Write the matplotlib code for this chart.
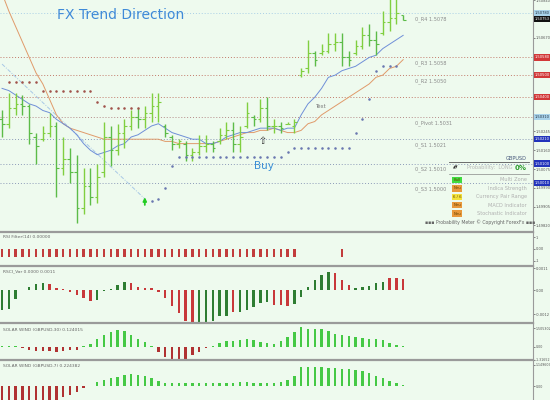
import numpy as np
import matplotlib
matplotlib.use("Agg")
import matplotlib.pyplot as plt
import matplotlib.transforms as mtransforms

# ---- data (GBPUSD, 60 bars) ----
bars = np.arange(1, 61)

high = [1.5034, 1.5042, 1.5042, 1.5041, 1.5037, 1.5024, 1.5027, 1.5033, 1.5029, 1.5022,
        1.5017, 1.5014, 1.5008, 1.5008, 1.5010, 1.5029, 1.5027, 1.5028, 1.5030, 1.5034,
        1.5035, 1.5036, 1.5042, 1.5042, 1.5028, 1.5023, 1.5021, 1.5020, 1.5017, 1.5023,
        1.5023, 1.5020, 1.5026, 1.5029, 1.5029, 1.5027, 1.5038, 1.5032, 1.5039, 1.5040,
        1.5030, 1.5029, 1.5029, 1.5030, 1.5053, 1.5066, 1.5061, 1.5064, 1.5069, 1.5069,
        1.5069, 1.5061, 1.5066, 1.5072, 1.5073, 1.5070, 1.5079, 1.5086, 1.5088, 1.5077]
low = [1.5022, 1.5026, 1.5032, 1.5032, 1.5019, 1.5010, 1.5020, 1.5022, 1.4995, 1.5005,
       1.5001, 1.4983, 1.4987, 1.4991, 1.4992, 1.5004, 1.5009, 1.5014, 1.5017, 1.5025,
       1.5026, 1.5026, 1.5029, 1.5029, 1.5022, 1.5016, 1.5017, 1.5011, 1.5011, 1.5014,
       1.5015, 1.5015, 1.5019, 1.5021, 1.5015, 1.5015, 1.5026, 1.5027, 1.5029, 1.5025,
       1.5024, 1.5024, 1.5028, 1.5024, 1.5049, 1.5051, 1.5054, 1.5059, 1.5060, 1.5061,
       1.5054, 1.5054, 1.5059, 1.5062, 1.5063, 1.5059, 1.5068, 1.5070, 1.5073, 1.5075]
open_ = [1.5030, 1.5028, 1.5035, 1.5037, 1.5036, 1.5022, 1.5021, 1.5024, 1.5027, 1.5008,
         1.5012, 1.5006, 1.4990, 1.5000, 1.4995, 1.5006, 1.5022, 1.5016, 1.5024, 1.5027,
         1.5031, 1.5030, 1.5033, 1.5036, 1.5027, 1.5022, 1.5019, 1.5019, 1.5014, 1.5015,
         1.5018, 1.5019, 1.5020, 1.5023, 1.5025, 1.5019, 1.5027, 1.5031, 1.5030, 1.5035,
         1.5027, 1.5027, 1.5028, 1.5027, 1.5050, 1.5053, 1.5060, 1.5060, 1.5061, 1.5064,
         1.5065, 1.5058, 1.5060, 1.5063, 1.5068, 1.5066, 1.5069, 1.5074, 1.5076, 1.5077]
close = [1.5028, 1.5035, 1.5037, 1.5036, 1.5024, 1.5018, 1.5024, 1.5027, 1.5008, 1.5012,
         1.5006, 1.4990, 1.5000, 1.4995, 1.5004, 1.5022, 1.5016, 1.5024, 1.5027, 1.5031,
         1.5030, 1.5033, 1.5036, 1.5038, 1.5024, 1.5019, 1.5020, 1.5014, 1.5015, 1.5018,
         1.5019, 1.5017, 1.5023, 1.5025, 1.5019, 1.5022, 1.5033, 1.5030, 1.5035, 1.5027,
         1.5027, 1.5026, 1.5028, 1.5029, 1.5052, 1.5060, 1.5057, 1.5061, 1.5064, 1.5065,
         1.5058, 1.5057, 1.5063, 1.5068, 1.5066, 1.5064, 1.5074, 1.5076, 1.5078, 1.5075]

ma_fast = [1.5044, 1.5043, 1.5041, 1.5039, 1.5037, 1.5036, 1.5034, 1.5033, 1.5030, 1.5028,
           1.5026, 1.5023, 1.5019, 1.5016, 1.5014, 1.5015, 1.5016, 1.5018, 1.5019, 1.5022,
           1.5023, 1.5025, 1.5027, 1.5028, 1.5026, 1.5024, 1.5023, 1.5022, 1.5021, 1.5021,
           1.5019, 1.5019, 1.5020, 1.5022, 1.5023, 1.5024, 1.5024, 1.5025, 1.5026, 1.5026,
           1.5026, 1.5025, 1.5026, 1.5026, 1.5032, 1.5037, 1.5040, 1.5044, 1.5049, 1.5050,
           1.5052, 1.5053, 1.5054, 1.5056, 1.5058, 1.5059, 1.5062, 1.5064, 1.5066, 1.5068]
ma_slow = [1.5087, 1.5079, 1.5072, 1.5065, 1.5058, 1.5051, 1.5046, 1.5039, 1.5032, 1.5028,
           1.5026, 1.5025, 1.5024, 1.5023, 1.5022, 1.5021, 1.5021, 1.5021, 1.5021, 1.5021,
           1.5021, 1.5021, 1.5021, 1.5021, 1.5020, 1.5020, 1.5019, 1.5019, 1.5019, 1.5019,
           1.5019, 1.5019, 1.5020, 1.5021, 1.5022, 1.5023, 1.5024, 1.5024, 1.5025, 1.5025,
           1.5026, 1.5025, 1.5024, 1.5024, 1.5025, 1.5028, 1.5029, 1.5032, 1.5034, 1.5036,
           1.5038, 1.5040, 1.5042, 1.5044, 1.5046, 1.5049, 1.5050, 1.5053, 1.5054, 1.5057]

nan = np.nan
sar_up = [nan, 1.5047, 1.5047, 1.5047, 1.5047, 1.5047, 1.5043, 1.5043, 1.5043, 1.5043,
          1.5043, 1.5043, 1.5043, 1.5043, 1.5038, 1.5036, 1.5035, 1.5035, 1.5035, 1.5035,
          1.5035] + [nan] * 39
sar_dn = [nan] * 22 + [1.4993, 1.4994, 1.4999, 1.5009] + [1.5013] * 16 + [1.5015] + \
         [1.5017] * 9 + [1.5024, 1.5030, 1.5039, 1.5052, 1.5054, 1.5054, 1.5054, nan]

trend_x = [1, 22]
trend_y = [1.5055, 1.4994]

levels = [1.5078, 1.5058, 1.5050, 1.5040, 1.5031, 1.5021, 1.5010, 1.5001]
level_names = ["0_R4 1.5078", "0_R3 1.5058", "0_R2 1.5050", "", "0_Pivot 1.5031",
               "0_S1 1.5021", "0_S2 1.5010", "0_S3 1.5000"]
level_colors = ["#a9cfe6", "#c27a6a", "#c27a6a", "#c27a6a", "#b48a88",
                "#8c9ab8", "#8c9ab8", "#8c9ab8"]

# scale labels that are not hidden under the coloured boxes
price_ticks = [1.4982, 1.49905, 1.4999, 1.50075, 1.5016, 1.50245, 1.5067, 1.5084]
price_boxes = [1.5078, 1.50753, 1.5058, 1.5050, 1.5040, 1.5031, 1.5021, 1.5010, 1.5001]
box_colors = ["#a9d3ea", "#111111", "#d23838", "#d23838", "#d23838", "#a9d3ea",
              "#2233bb", "#2233bb", "#2233bb"]

rsi_filter = [-0.7] * 44 + [nan] * 6 + [-0.7] + [nan] * 9

rsci = [-0.0010, -0.00095, -0.00045, 0.00002, 0.00015, 0.0003, 0.00035, 0.0003, 0.0001, 0.00005,
        -0.0001, -0.00025, -0.0004, -0.00055, -0.0005, -0.00005, 0.00005, 0.00025, 0.0004, 0.00035,
        0.00015, 0.0001, 0.0001, -0.0001, -0.0004, -0.0008, -0.00115, -0.00155, -0.00165, -0.00165,
        -0.00165, -0.00155, -0.0013, -0.0013, -0.0011, -0.0011, -0.0010, -0.00085, -0.00065, -0.0006,
        -0.00075, -0.00075, -0.0008, -0.0007, -0.00035, 0.00015, 0.0005, 0.00075, 0.0009, 0.00085,
        0.0005, 0.00025, 0.0001, 0.00015, 0.0002, 0.00035, 0.0004, 0.0006, 0.0006, 0.00055]
rsci_col = list("gggggggrrr" "rrrrgggggr" "rrrrrrrrrg" "ggggrggggg"
                "rrrggggggr" "rrgggggrrr")

solar1 = [0.08, 0.08, 0.08, -0.08, -0.24, -0.32, -0.32, -0.32, -0.40, -0.32,
          -0.24, -0.24, 0.08, 0.24, 0.64, 0.96, 1.20, 1.36, 1.28, 0.96,
          0.64, 0.40, 0.08, -0.40, -0.80, -1.04, -1.04, -0.96, -0.64, -0.40,
          -0.08, 0.08, 0.32, 0.48, 0.48, 0.56, 0.64, 0.56, 0.40, 0.32,
          0.24, 0.48, 0.80, 1.20, 1.60, 1.44, 1.44, 1.44, 1.28, 1.04,
          0.96, 0.88, 0.80, 0.72, 0.64, 0.64, 0.56, 0.32, 0.16, 0.08]
solar2 = [-0.96] * 9 + [-0.66, -0.54, -0.36, -0.12, 0.03, 0.24, 0.36, 0.48, 0.54, 0.66, 0.72,
          0.66, 0.60, 0.48, 0.30, 0.18, 0.18, 0.18, 0.18, 0.18, 0.18,
          0.18, 0.18, 0.21, 0.21, 0.21, 0.24, 0.24, 0.21, 0.21, 0.21,
          0.18, 0.24, 0.36, 0.60, 1.14, 1.14, 1.14, 1.14, 1.08, 1.08,
          1.02, 1.02, 0.96, 0.90, 0.78, 0.60, 0.48, 0.30, 0.18, 0.06]

info_rows = ["Multi Zone", "Indica Strength", "Currency Pair Range", "MACD Indicator",
             "Stochastic Indicator"]
info_box_cols = ["#3fdc3f", "#e8973a", "#f2e23a", "#e8973a", "#e8973a"]
info_box_txt = ["Bull", "Neu", "6 / 6", "Neu", "Neu"]

# ---- layout ----
BG = "#eefaee"
W, H = 550, 400
fig = plt.figure(figsize=(5.5, 4), dpi=100, facecolor=BG)


def frame(y0, y1):
    return [0, 1 - y1 / H, 533 / W, (y1 - y0) / H]


def ftext(x, y, s, **kw):
    fig.text(x / W, 1 - y / H, s, **kw)


ax = fig.add_axes(frame(0, 232))
ax_rsi = fig.add_axes(frame(232, 266))
ax_rsci = fig.add_axes(frame(266, 323))
ax_s1 = fig.add_axes(frame(323, 360))
ax_s2 = fig.add_axes(frame(360, 400))

for a in (ax, ax_rsi, ax_rsci, ax_s1, ax_s2):
    a.set_facecolor(BG)
    a.set_xlim(0.7, 79.1)
    a.set_xticks([])
    a.yaxis.tick_right()
    a.tick_params(axis="y", labelsize=2.6, colors="#555555", length=1.2, width=0.5, pad=0.5)
    a.spines["left"].set_visible(False)
    a.spines["bottom"].set_visible(False)
    a.spines["right"].set_color("#9a9a9a")
    a.spines["right"].set_linewidth(0.8)
    a.spines["top"].set_color("#9a9a9a")
    a.spines["top"].set_linewidth(1.6)
ax.spines["top"].set_visible(False)
for a in (ax_s1, ax_s2):
    a.tick_params(axis="y", labelsize=2.3)

# ---- main price panel ----
ax.set_ylim(1.4979, 1.5084)
ax.set_yticks(price_ticks)
ax.set_yticklabels([f"{t:.5f}" for t in price_ticks])

for lv, c in zip(levels, level_colors):
    ax.axhline(lv, color=c, lw=0.7, ls=(0, (1, 2)), zorder=1)
for lv, name in zip(levels, level_names):
    if name:
        ax.annotate(name, (61.7, lv), xytext=(0, -4), textcoords="offset points",
                    fontsize=3.6, color="#8a8a8a", va="center", zorder=2)

ax.plot(trend_x, trend_y, color="#a8c8e6", lw=0.7, ls=(0, (4, 1.5, 1, 1.5)), zorder=2)
ax.plot(bars, ma_slow, color="#e09a6a", lw=0.7, zorder=3)
ax.plot(bars, ma_fast, color="#6f8fd8", lw=0.7, zorder=3)

up = np.array(close) >= np.array(open_)
cols = np.where(up, "#80cf40", "#5cbc48")
ax.vlines(bars, low, high, colors=cols, lw=1.0, zorder=4)
ax.hlines(open_, bars - 0.38, bars, colors=cols, lw=0.8, zorder=4)
ax.hlines(close, bars, bars + 0.38, colors=cols, lw=0.8, zorder=4)

ax.scatter(bars, sar_up, s=0.7, color="#a0524a", zorder=5)
ax.scatter(bars, sar_dn, s=0.7, color="#6a78b0", zorder=5)

ax.annotate("", xy=(22, 1.4996), xytext=(22, 1.4990),
            arrowprops=dict(arrowstyle="-|>", color="#22cc22", lw=1.3,
                            mutation_scale=5), zorder=6)
ax.text(39.3, 1.5020, "\u21e7", fontsize=7, ha="center", va="center", color="#333333", zorder=6)
ax.text(39.5, 1.5009, "Buy", fontsize=7.5, ha="center", va="center", color="#3a8fd6", zorder=6)
ax.text(47.2, 1.5036, "Text", fontsize=3.8, ha="left", va="center", color="#777777", zorder=6)

# coloured price boxes on the right scale
trans = mtransforms.blended_transform_factory(ax.transAxes, ax.transData)
for p, c in zip(price_boxes, box_colors):
    tc = "#223344" if c == "#a9d3ea" else "white"
    ax.text(1.003, p, f"{p:.5f}", transform=trans, fontsize=2.6, color=tc,
            ha="left", va="center", clip_on=False, zorder=10,
            bbox=dict(boxstyle="square,pad=0.3", fc=c, ec="none"))

ftext(57, 15, "FX Trend Direction", fontsize=10, color="#3f8ad8", va="center")

# info panel
ftext(527, 158, "GBPUSD", fontsize=3.6, color="#45577a", ha="right", va="center")
fig.add_artist(plt.Line2D([449 / W, 529 / W], [1 - 162 / H] * 2, color="#555555", lw=0.6))
ftext(456, 168, "\u25b2\u25bc", fontsize=2.6, color="#333333", ha="center", va="center")
ftext(490, 168, "Probability:  LONG", fontsize=3.6, color="#b8b8b8", ha="center", va="center")
ftext(527, 168, "0%", fontsize=5, color="#2a9a2a", ha="right", va="center", weight="bold")
fig.add_artist(plt.Line2D([449 / W, 529 / W], [1 - 174 / H] * 2, color="#888888", lw=0.5))
for i, (row, bc, bt) in enumerate(zip(info_rows, info_box_cols, info_box_txt)):
    y = 180 + 8.4 * i
    ftext(457, y, bt, fontsize=2.8, color="#664400", ha="center", va="center",
          bbox=dict(boxstyle="square,pad=0.3", fc=bc, ec="none"))
    ftext(527, y, row, fontsize=3.6, color="#b0b0b0", ha="right", va="center")
ftext(480, 222, "\u25aa\u25aa\u25aa Probability Meter \u00a9 Copyright ForexFx \u25aa\u25aa\u25aa",
      fontsize=3.3, color="#666666", ha="center", va="center")

# ---- RSI filter ----
ax_rsi.set_ylim(-1.42, 1.42)
ax_rsi.set_yticks([1, 0, -1])
ax_rsi.set_yticklabels(["1", "0.00", "-1"])
ax_rsi.bar(bars, rsi_filter, width=0.34, color="#c23c3c")
ax_rsi.text(0.005, 0.86, "RSI Filter(14) 0.00000", transform=ax_rsi.transAxes,
            fontsize=3.2, color="#666666", va="center")

# ---- RSCI ----
ax_rsci.set_ylim(-0.00165, 0.0012)
ax_rsci.set_yticks([0.0011, 0, -0.0012])
ax_rsci.set_yticklabels(["0.0011", "0.00", "-0.0012"])
ax_rsci.bar(bars, rsci, width=0.34,
            color=["#2e7d32" if c == "g" else "#c8383a" for c in rsci_col])
ax_rsci.text(0.005, 0.9, "RSCI_Var 0.0000 0.0011", transform=ax_rsci.transAxes,
             fontsize=3.2, color="#666666", va="center")

# ---- Solar wind ----
ax_s1.set_ylim(-1.04, 1.92)
ax_s1.set_yticks([1.505302, 0, -1.0])
ax_s1.set_yticklabels(["1.505302", "0.00", "-1.31652"])
ax_s1.bar(bars, solar1, width=0.34,
          color=["#45c945" if v > 0 else "#b03232" for v in solar1])
ax_s1.text(0.005, 0.82, "SOLAR WIND (GBPUSD,30) 0.124015", transform=ax_s1.transAxes,
           fontsize=3.2, color="#666666", va="center")

ax_s2.set_ylim(-0.84, 1.56)
ax_s2.set_yticks([1.26, 0])
ax_s2.set_yticklabels(["1.149609", "0.00"])
ax_s2.bar(bars, solar2, width=0.34,
          color=["#45c945" if v > 0 else "#b03232" for v in solar2])
ax_s2.text(0.005, 0.84, "SOLAR WIND (GBPUSD,7) 0.224382", transform=ax_s2.transAxes,
           fontsize=3.2, color="#666666", va="center")

fig.savefig("out.png", dpi=100, facecolor=BG)
